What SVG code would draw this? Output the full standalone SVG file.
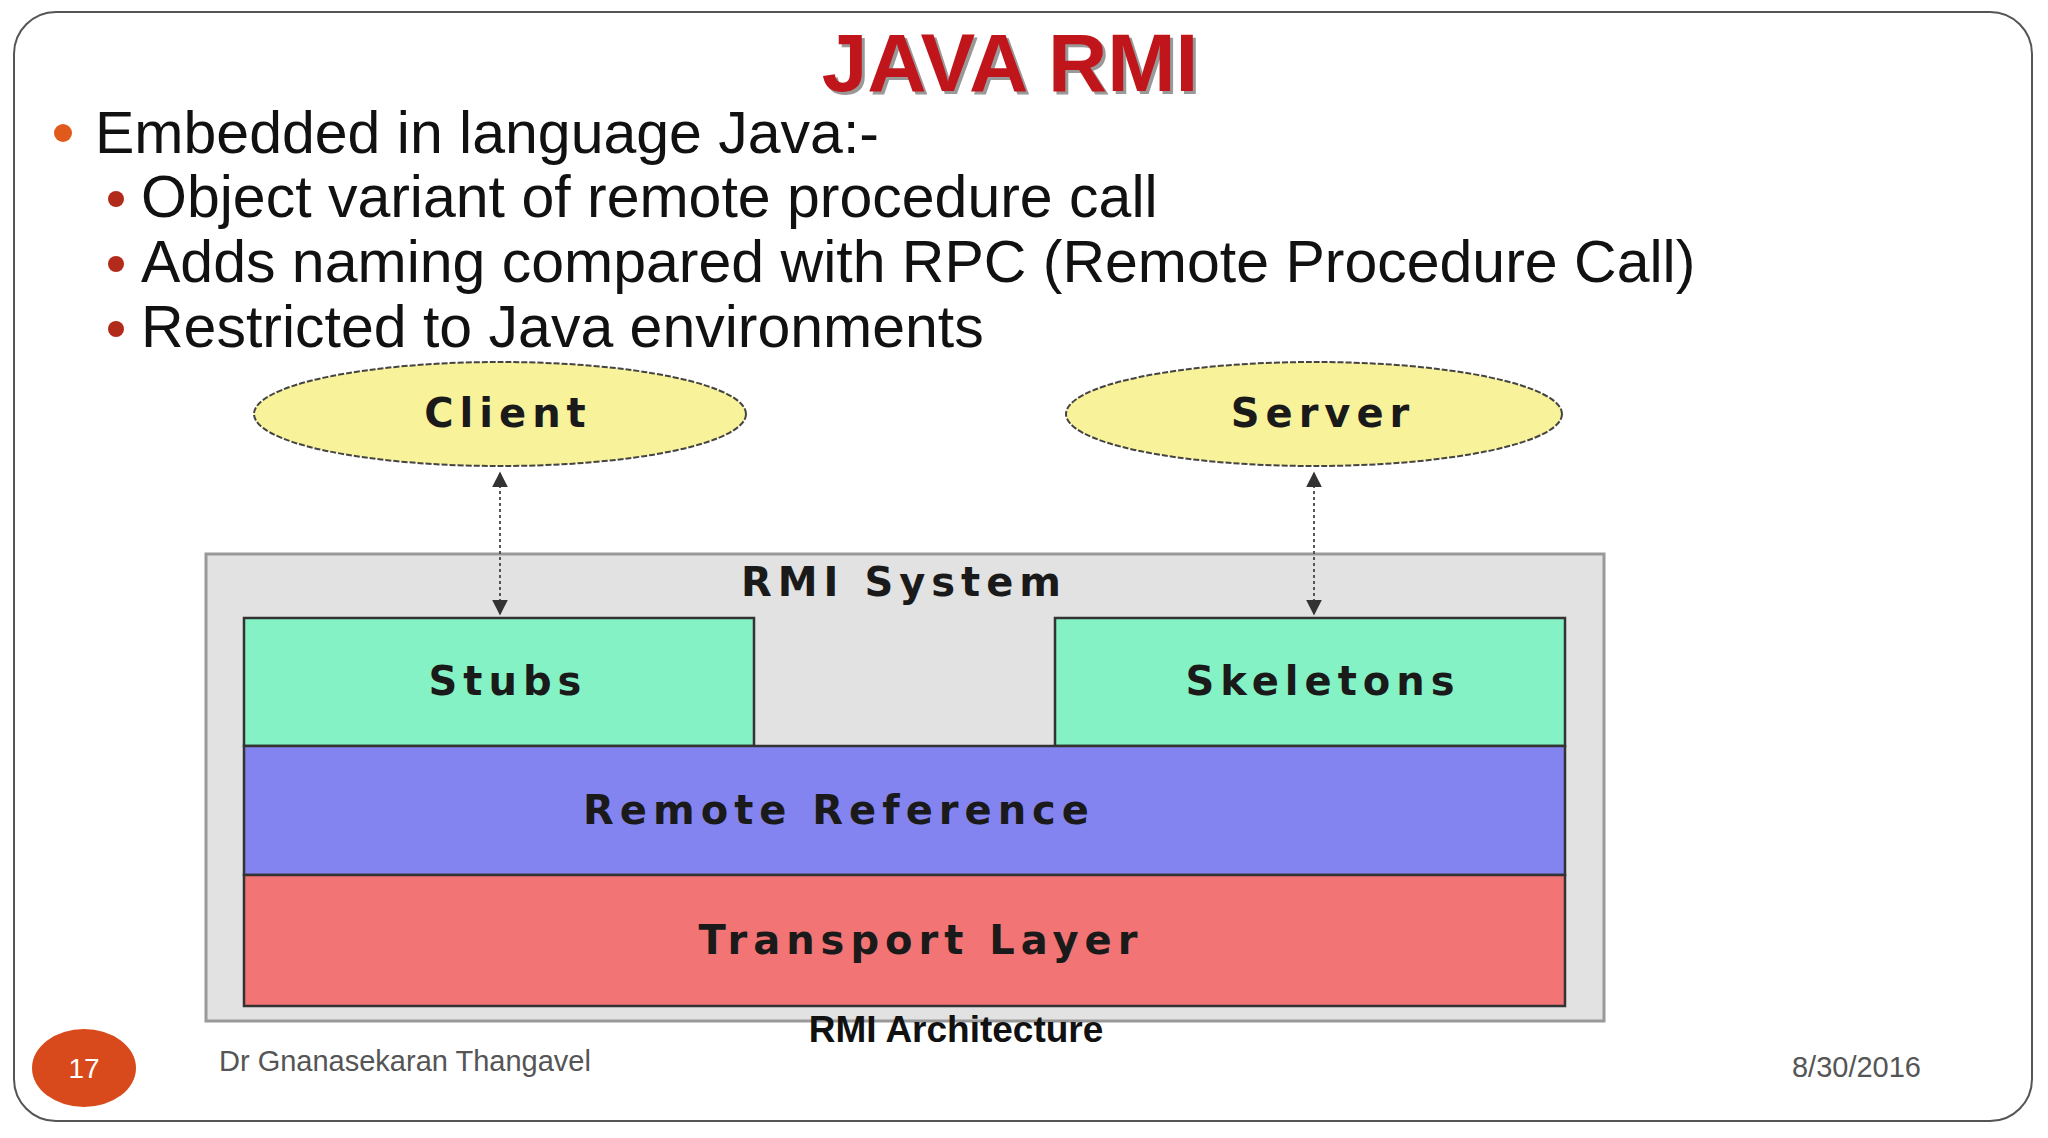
<svg xmlns="http://www.w3.org/2000/svg" width="2048" height="1138" viewBox="0 0 2048 1138">
<defs>
<marker id="ah" viewBox="0 0 10 10" refX="9" refY="5" markerWidth="8" markerHeight="8" orient="auto-start-reverse"><path d="M0,0 L10,5 L0,10 z" fill="#333"/></marker>
<style>
.b{font-family:"Liberation Sans",Arial,sans-serif;font-size:59px;fill:#111}
.d{font-family:"DejaVu Sans",sans-serif;font-weight:bold;font-size:40px;fill:#1a1a1a;text-anchor:middle;letter-spacing:6px}
.lay{stroke:#333;stroke-width:2.5}
</style>
</defs>
<rect width="2048" height="1138" fill="#fff"/>
<rect x="14" y="12" width="2018" height="1109" rx="42" fill="#fff" stroke="#555" stroke-width="2"/>
<text x="1013" y="94" text-anchor="middle" font-family="Liberation Sans,Arial,sans-serif" font-weight="bold" font-size="82" fill="#999">JAVA RMI</text>
<text x="1010" y="91" text-anchor="middle" font-family="Liberation Sans,Arial,sans-serif" font-weight="bold" font-size="82" fill="#c0161b">JAVA RMI</text>
<circle cx="63" cy="133" r="9" fill="#e05a1c"/>
<text class="b" x="95" y="153">Embedded in language Java:-</text>
<circle cx="116" cy="199" r="8" fill="#b22a1a"/>
<text class="b" x="141" y="217">Object variant of remote procedure call</text>
<circle cx="116" cy="264" r="8" fill="#b22a1a"/>
<text class="b" x="141" y="282">Adds naming compared with RPC (Remote Procedure Call)</text>
<circle cx="116" cy="329" r="8" fill="#b22a1a"/>
<text class="b" x="141" y="347">Restricted to Java environments</text>
<g id="system"><rect x="206" y="554" width="1398" height="467" fill="#e2e2e2" stroke="#999" stroke-width="3"/>
<text class="d" x="904" y="596">RMI System</text></g>
<g id="client"><ellipse cx="500" cy="414" rx="246" ry="52" fill="#f8f29a" stroke="#444" stroke-width="2" stroke-dasharray="6 2"/><text class="d" x="508" y="427">Client</text></g>
<g id="server"><ellipse cx="1314" cy="414" rx="248" ry="52" fill="#f8f29a" stroke="#444" stroke-width="2" stroke-dasharray="6 2"/><text class="d" x="1323" y="427">Server</text></g>
<g id="stubs"><rect class="lay" x="244" y="618" width="510" height="128" fill="#84f2c4"/><text class="d" x="508" y="695">Stubs</text></g>
<g id="skeletons"><rect class="lay" x="1055" y="618" width="510" height="128" fill="#84f2c4"/><text class="d" x="1323" y="695">Skeletons</text></g>
<g id="remote"><rect class="lay" x="244" y="746" width="1321" height="129" fill="#8484f0"/><text class="d" x="839" y="824" fill="#1a1a4a">Remote Reference</text></g>
<g id="transport"><rect class="lay" x="244" y="875" width="1321" height="131" fill="#f27474"/><text class="d" x="921" y="954">Transport Layer</text></g>
<g id="connectors" stroke="#555" stroke-width="2" stroke-dasharray="3 3" fill="none">
<line x1="500" y1="473" x2="500" y2="614" marker-start="url(#ah)" marker-end="url(#ah)"/>
<line x1="1314" y1="473" x2="1314" y2="614" marker-start="url(#ah)" marker-end="url(#ah)"/>
</g>
<text x="956" y="1042" text-anchor="middle" font-family="Liberation Sans,Arial,sans-serif" font-weight="bold" font-size="37" fill="#111">RMI Architecture</text>
<ellipse cx="84" cy="1068" rx="52" ry="39" fill="#d84a1c"/>
<text x="84" y="1078" text-anchor="middle" font-family="Liberation Sans,Arial,sans-serif" font-size="28" fill="#fff">17</text>
<text x="219" y="1071" font-family="Liberation Sans,Arial,sans-serif" font-size="29" fill="#555">Dr Gnanasekaran Thangavel</text>
<text x="1921" y="1077" text-anchor="end" font-family="Liberation Sans,Arial,sans-serif" font-size="29" fill="#555">8/30/2016</text>
</svg>
